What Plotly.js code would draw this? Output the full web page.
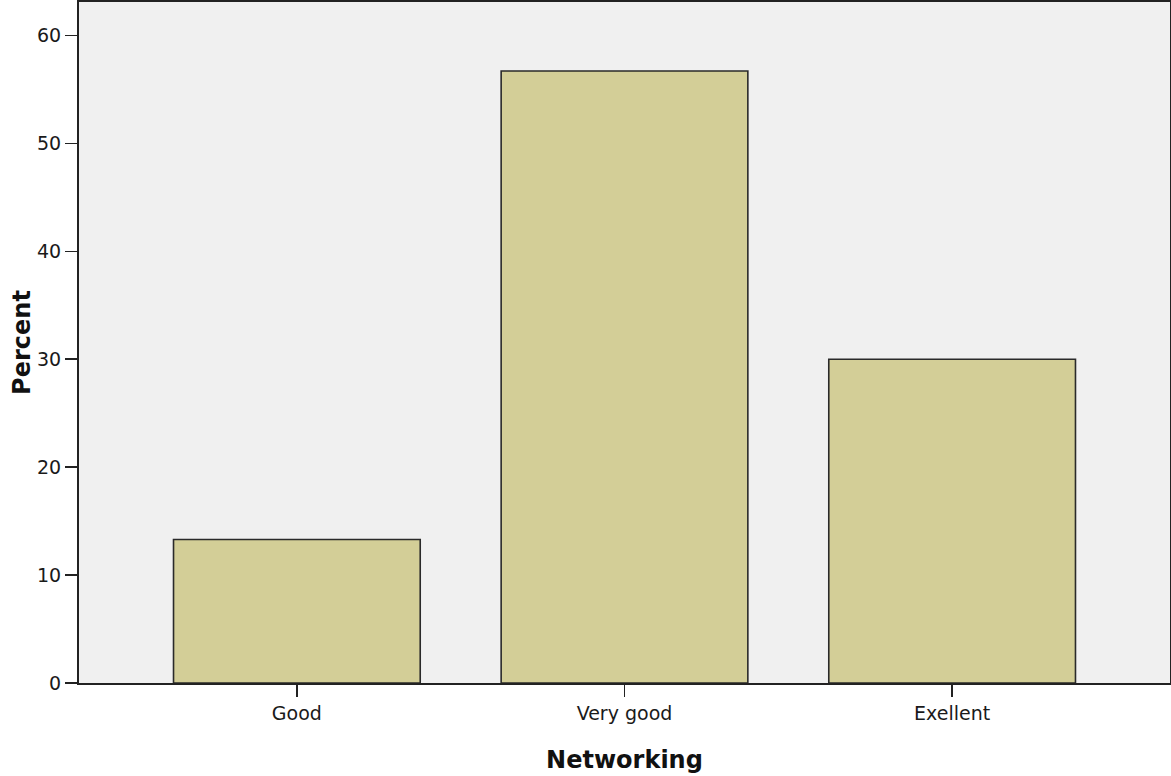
<!DOCTYPE html>
<html>
<head>
<meta charset="utf-8">
<script src="https://cdn.plot.ly/plotly-3.0.1.min.js"></script>
<style>html,body{margin:0;padding:0;background:#fff;}#chart{width:1171px;height:776px;}</style>
</head>
<body>
<div id="chart"></div>
<script>
const categories = ["Good", "Very good", "Exellent"];
const percentValues = [13.3, 56.7, 30.0];
const yTickValues = [0, 10, 20, 30, 40, 50, 60];

const trace = {
  type: "bar",
  x: categories,
  y: percentValues,
  width: 0.753,
  marker: {color: "#d3ce97", line: {color: "#2a2a2a", width: 1.6}},
  hoverinfo: "x+y"
};

const layout = {
  width: 1171,
  height: 776,
  margin: {l: 79, r: 1, t: 2, b: 93, pad: 0},
  paper_bgcolor: "#ffffff",
  plot_bgcolor: "#f0f0f0",
  showlegend: false,
  font: {family: "DejaVu Sans, sans-serif", size: 19, color: "#1a1a1a"},
  xaxis: {
    type: "category",
    range: [-0.665, 2.665],
    showgrid: false,
    zeroline: false,
    showline: true,
    linecolor: "#222",
    linewidth: 2,
    mirror: true,
    ticks: "outside",
    ticklen: 12,
    tickwidth: 1.5,
    tickcolor: "#222",
    tickfont: {family: "DejaVu Sans, sans-serif", size: 19, color: "#1a1a1a"},
    title: {text: "Networking", font: {family: "DejaVu Sans, sans-serif", size: 24, color: "#111", weight: "bold"}, standoff: 28}
  },
  yaxis: {
    range: [0, 63.1],
    tickvals: yTickValues,
    showgrid: false,
    zeroline: false,
    showline: true,
    linecolor: "#222",
    linewidth: 2,
    mirror: true,
    ticks: "outside",
    ticklen: 12,
    tickwidth: 1.5,
    tickcolor: "#222",
    tickfont: {family: "DejaVu Sans, sans-serif", size: 19, color: "#1a1a1a"},
    title: {text: "Percent", font: {family: "DejaVu Sans, sans-serif", size: 24, color: "#111", weight: "bold"}, standoff: 0}
  },
  bargap: 0.25
};

Plotly.newPlot("chart", [trace], layout, {displayModeBar: false, staticPlot: true});
</script>
</body>
</html>
